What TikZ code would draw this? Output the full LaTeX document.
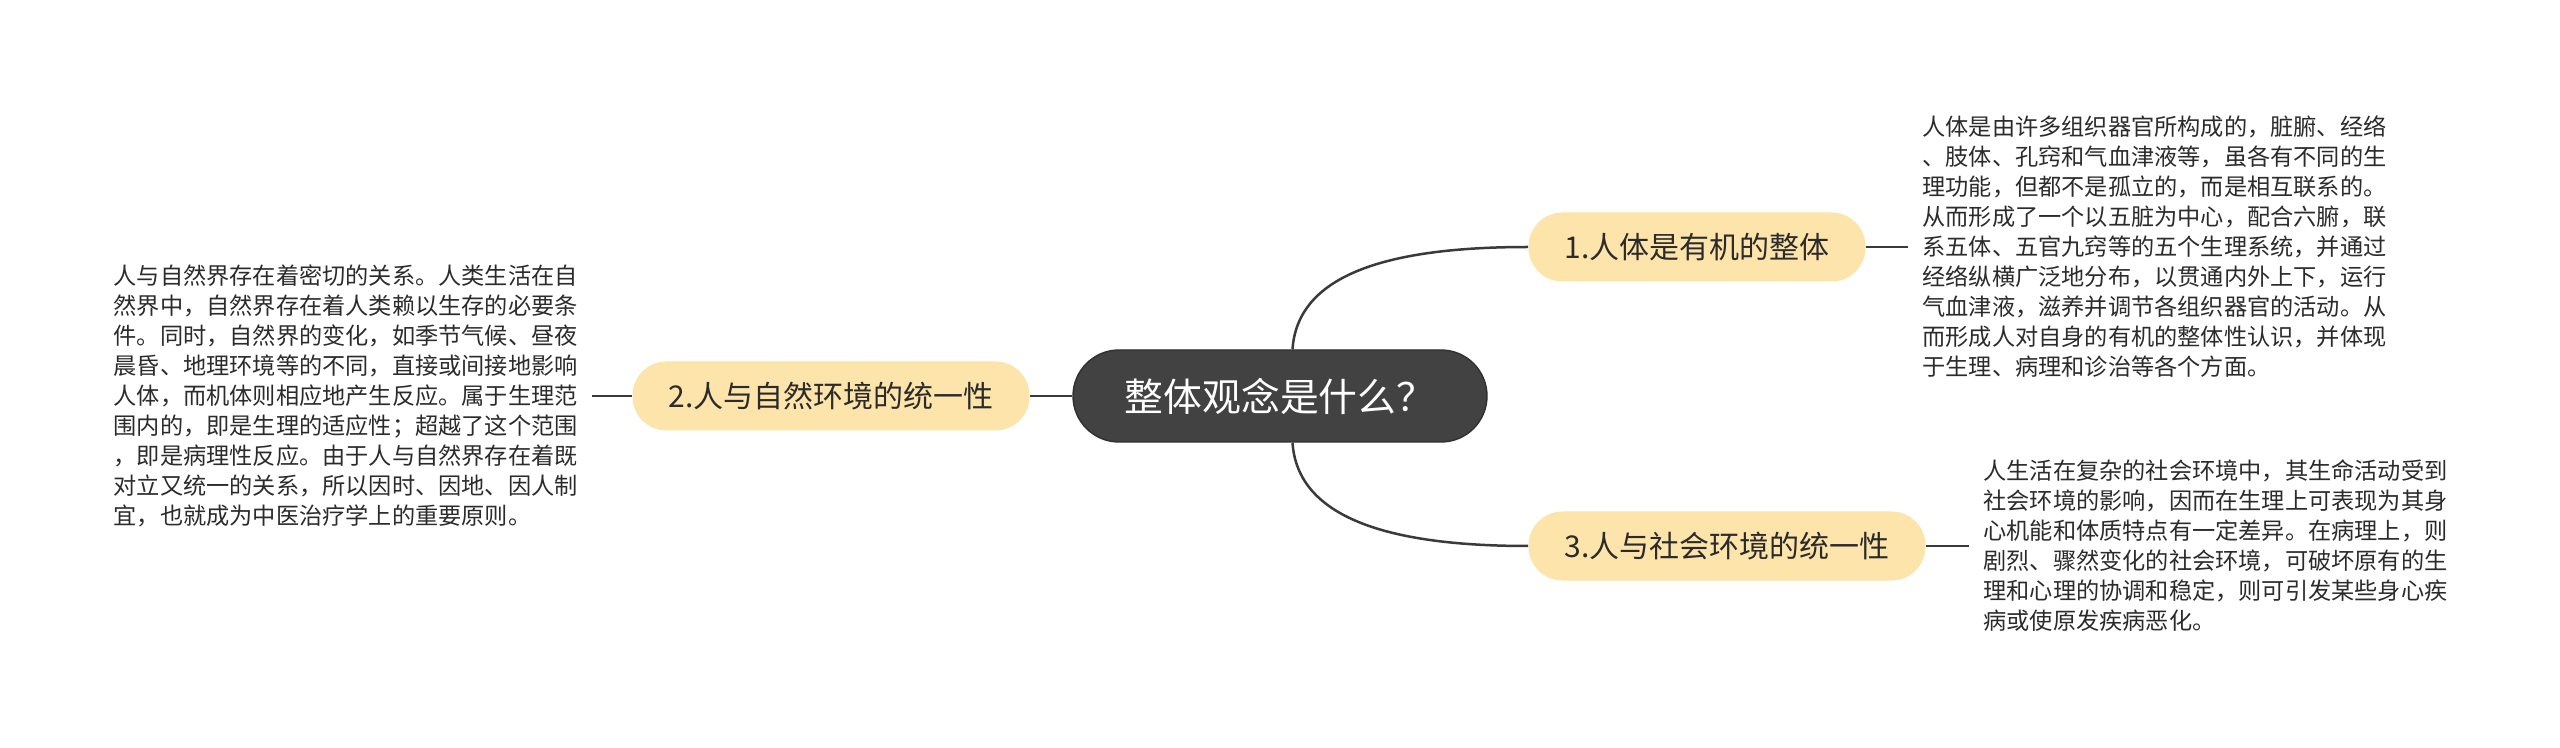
\documentclass[tikz,border=0pt]{standalone}
\usepackage{fontspec}
\setmainfont{Noto Sans CJK SC}
\definecolor{rootgray}{HTML}{424242}
\definecolor{rootedge}{HTML}{303030}
\definecolor{topicfill}{HTML}{FDE4AA}
\definecolor{linkgray}{HTML}{3A3A3A}
\definecolor{txtgray}{HTML}{2B2B2B}

\begin{document}
\begin{tikzpicture}[x=0.5pt,y=-0.5pt,
	root/.style={draw=rootedge,line width=0.7pt,fill=rootgray,rounded corners=23pt,minimum width=207pt,minimum height=46pt,inner sep=0pt,text=white,font=\fontsize{19.4pt}{19.4pt}\selectfont},
	topic/.style={fill=topicfill,rounded corners=17pt,minimum height=34.5pt,inner xsep=18pt,inner ysep=0pt,text=txtgray,font=\fontsize{15pt}{15pt}\selectfont},
	note/.style={align=left,inner xsep=7pt,inner ysep=0pt,text=txtgray,font=\fontsize{11.6pt}{15pt}\selectfont},
	link/.style={draw=linkgray,line width=1.25pt}]
	\useasboundingbox[fill=white] (0,0) rectangle (2560,748);

	\coordinate (C) at (1280,396);
	\coordinate (N1) at (1697,247);
	\coordinate (N2) at (831,396);
	\coordinate (N3) at (1727,546);

	\node[root] (c) at (C) {整体观念是什么？};
	\node[topic] (n1) at (N1) {1.人体是有机的整体};
	\node[topic] (n2) at (N2) {2.人与自然环境的统一性};
	\node[topic] (n3) at (N3) {3.人与社会环境的统一性};

	\node[note,anchor=west] (t1) at (1908,247) {人体是由许多组织器官所构成的，脏腑、经络\\、肢体、孔窍和气血津液等，虽各有不同的生\\理功能，但都不是孤立的，而是相互联系的。\\从而形成了一个以五脏为中心，配合六腑，联\\系五体、五官九窍等的五个生理系统，并通过\\经络纵横广泛地分布，以贯通内外上下，运行\\气血津液，滋养并调节各组织器官的活动。从\\而形成人对自身的有机的整体性认识，并体现\\于生理、病理和诊治等各个方面。};
	\node[note,anchor=east] (t2) at (592,396) {人与自然界存在着密切的关系。人类生活在自\\然界中，自然界存在着人类赖以生存的必要条\\件。同时，自然界的变化，如季节气候、昼夜\\晨昏、地理环境等的不同，直接或间接地影响\\人体，而机体则相应地产生反应。属于生理范\\围内的，即是生理的适应性；超越了这个范围\\，即是病理性反应。由于人与自然界存在着既\\对立又统一的关系，所以因时、因地、因人制\\宜，也就成为中医治疗学上的重要原则。};
	\node[note,anchor=west] (t3) at (1969,546) {人生活在复杂的社会环境中，其生命活动受到\\社会环境的影响，因而在生理上可表现为其身\\心机能和体质特点有一定差异。在病理上，则\\剧烈、骤然变化的社会环境，可破坏原有的生\\理和心理的协调和稳定，则可引发某些身心疾\\病或使原发疾病恶化。};

	\draw[link] (c.75) .. controls +(5,-75) and +(-140,0) .. (n1.west);
	\draw[link] (c.-75) .. controls +(5,75) and +(-140,0) .. (n3.west);
	\draw[link] (c.west) -- (n2.east);
	\draw[link] (n2.west) -- (t2.east);
	\draw[link] (n1.east) -- (t1.west);
	\draw[link] (n3.east) -- (t3.west);
\end{tikzpicture}
\end{document}
